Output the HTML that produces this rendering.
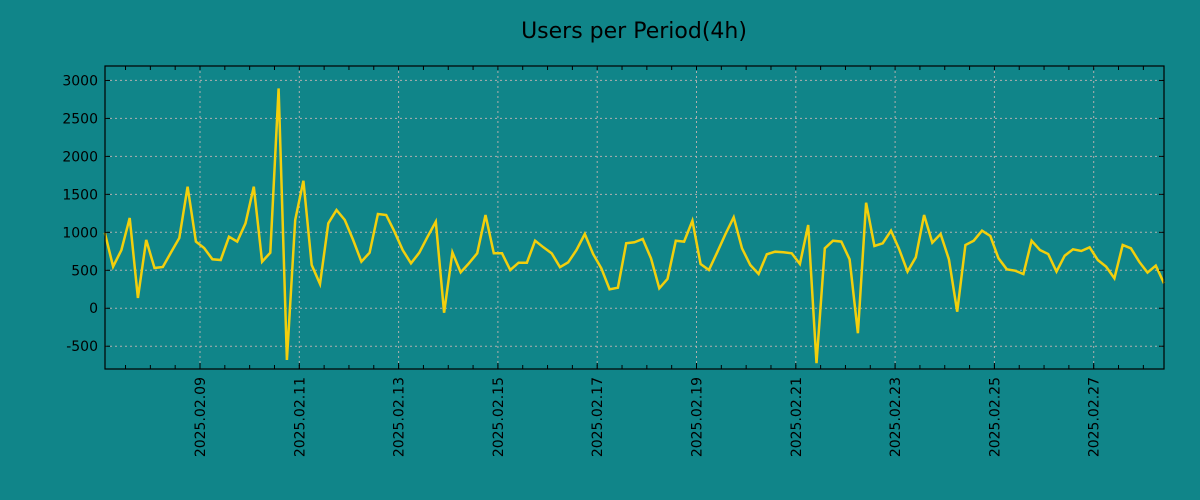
<!DOCTYPE html>
<html><head><meta charset="utf-8"><style>
html,body{margin:0;padding:0;background:#108589;}
svg{display:block;font-family:"DejaVu Sans","Liberation Sans",sans-serif;}
</style></head><body>
<svg id="chart" width="1200" height="500" viewBox="0 0 1200 500" xmlns="http://www.w3.org/2000/svg">
<rect x="0" y="0" width="1200" height="500" fill="#108589"/>
<text x="634" y="38" font-size="22" text-anchor="middle" fill="#000">Users per Period(4h)</text>
<g id="grid"></g>
<g id="series"></g>
<g id="axes"></g>
</svg>
<script>
const values = [995,548,767,1188,135,900,530,543,735,925,1600,877,793,645,636,942,877,1118,1600,613,732,2895,-680,1162,1680,570,320,1118,1294,1162,900,613,732,1241,1228,1008,767,592,732,942,1140,-58,737,474,592,724,1228,724,724,504,600,600,890,803,724,540,605,767,978,715,526,250,271,855,868,912,658,263,386,890,877,1153,583,504,737,978,1197,790,570,451,711,745,737,724,583,1096,-724,790,890,877,645,-329,1390,820,855,1021,776,482,671,1228,863,978,645,-45,833,890,1021,951,658,513,495,451,890,767,715,482,692,776,754,803,636,548,395,833,790,613,469,561,329];
const yTicks = [-500,0,500,1000,1500,2000,2500,3000];
const xTickLabels = ["2025.02.09","2025.02.11","2025.02.13","2025.02.15","2025.02.17","2025.02.19","2025.02.21","2025.02.23","2025.02.25","2025.02.27"];
const startHour = -46; // hours relative to 2025.02.09 00:00
const stepHours = 4;

const L=105,R=1164,T=66,B=369;
const pxPerDay=49.65;
const X=h=>200+h/24*pxPerDay;
const yMin=-800,yMax=3190;
const Y=v=>B-(v-yMin)/(yMax-yMin)*(B-T);
const NS='http://www.w3.org/2000/svg';
function mk(tag,attrs,parent){const e=document.createElementNS(NS,tag);for(const k in attrs)e.setAttribute(k,attrs[k]);parent.appendChild(e);return e;}
const grid=document.getElementById('grid'),series=document.getElementById('series'),axes=document.getElementById('axes');

yTicks.forEach(v=>{
  const y=Y(v);
  const g=mk('line',{x1:L,x2:R,y1:y,y2:y,stroke:'#b0b0b0','stroke-width':1,'stroke-dasharray':'2,3'},grid);
  
  
  const t1=mk('line',{x1:L,x2:L+5,y1:y,y2:y,stroke:'#000'},axes);
  
  
  const t2=mk('line',{x1:R-5,x2:R,y1:y,y2:y,stroke:'#000'},axes);
  
  
  const lb=mk('text',{x:98,y:y+5,'font-size':14,'text-anchor':'end',fill:'#000'},axes);
  lb.textContent=v;
  
  
});
// minor ticks every 12h
for(let h=-36;h<=480;h+=12){
  const x=X(h); if(x<L||x>R)continue;
  const a=mk('line',{x1:x,x2:x,y1:B,y2:B-4,stroke:'#000'},axes);
  
  
  const b=mk('line',{x1:x,x2:x,y1:T,y2:T+4,stroke:'#000'},axes);
  
  
}
xTickLabels.forEach((s,i)=>{
  const x=X(i*48);
  const g=mk('line',{x1:x,x2:x,y1:T,y2:B,stroke:'#b0b0b0','stroke-width':1,'stroke-dasharray':'2,3'},grid);
  
  
  const t=mk('line',{x1:x,x2:x,y1:B,y2:B-6,stroke:'#000'},axes);
  
  
  const lb=mk('text',{x:0,y:0,'font-size':14,'text-anchor':'end',fill:'#000',transform:`translate(${x+5},377) rotate(-90)`},axes);
  lb.textContent=s;
  
  
});
const pts=values.map((v,i)=>X(startHour+i*stepHours).toFixed(1)+','+Y(v).toFixed(1)).join(' ');
const pl=mk('polyline',{points:pts,fill:'none',stroke:'#f2cf0c','stroke-width':2.5,'stroke-linejoin':'miter'},series);


const fr=mk('rect',{x:L,y:T,width:R-L,height:B-T,fill:'none',stroke:'#000','stroke-width':1.2},axes);


</script>
</body></html>
